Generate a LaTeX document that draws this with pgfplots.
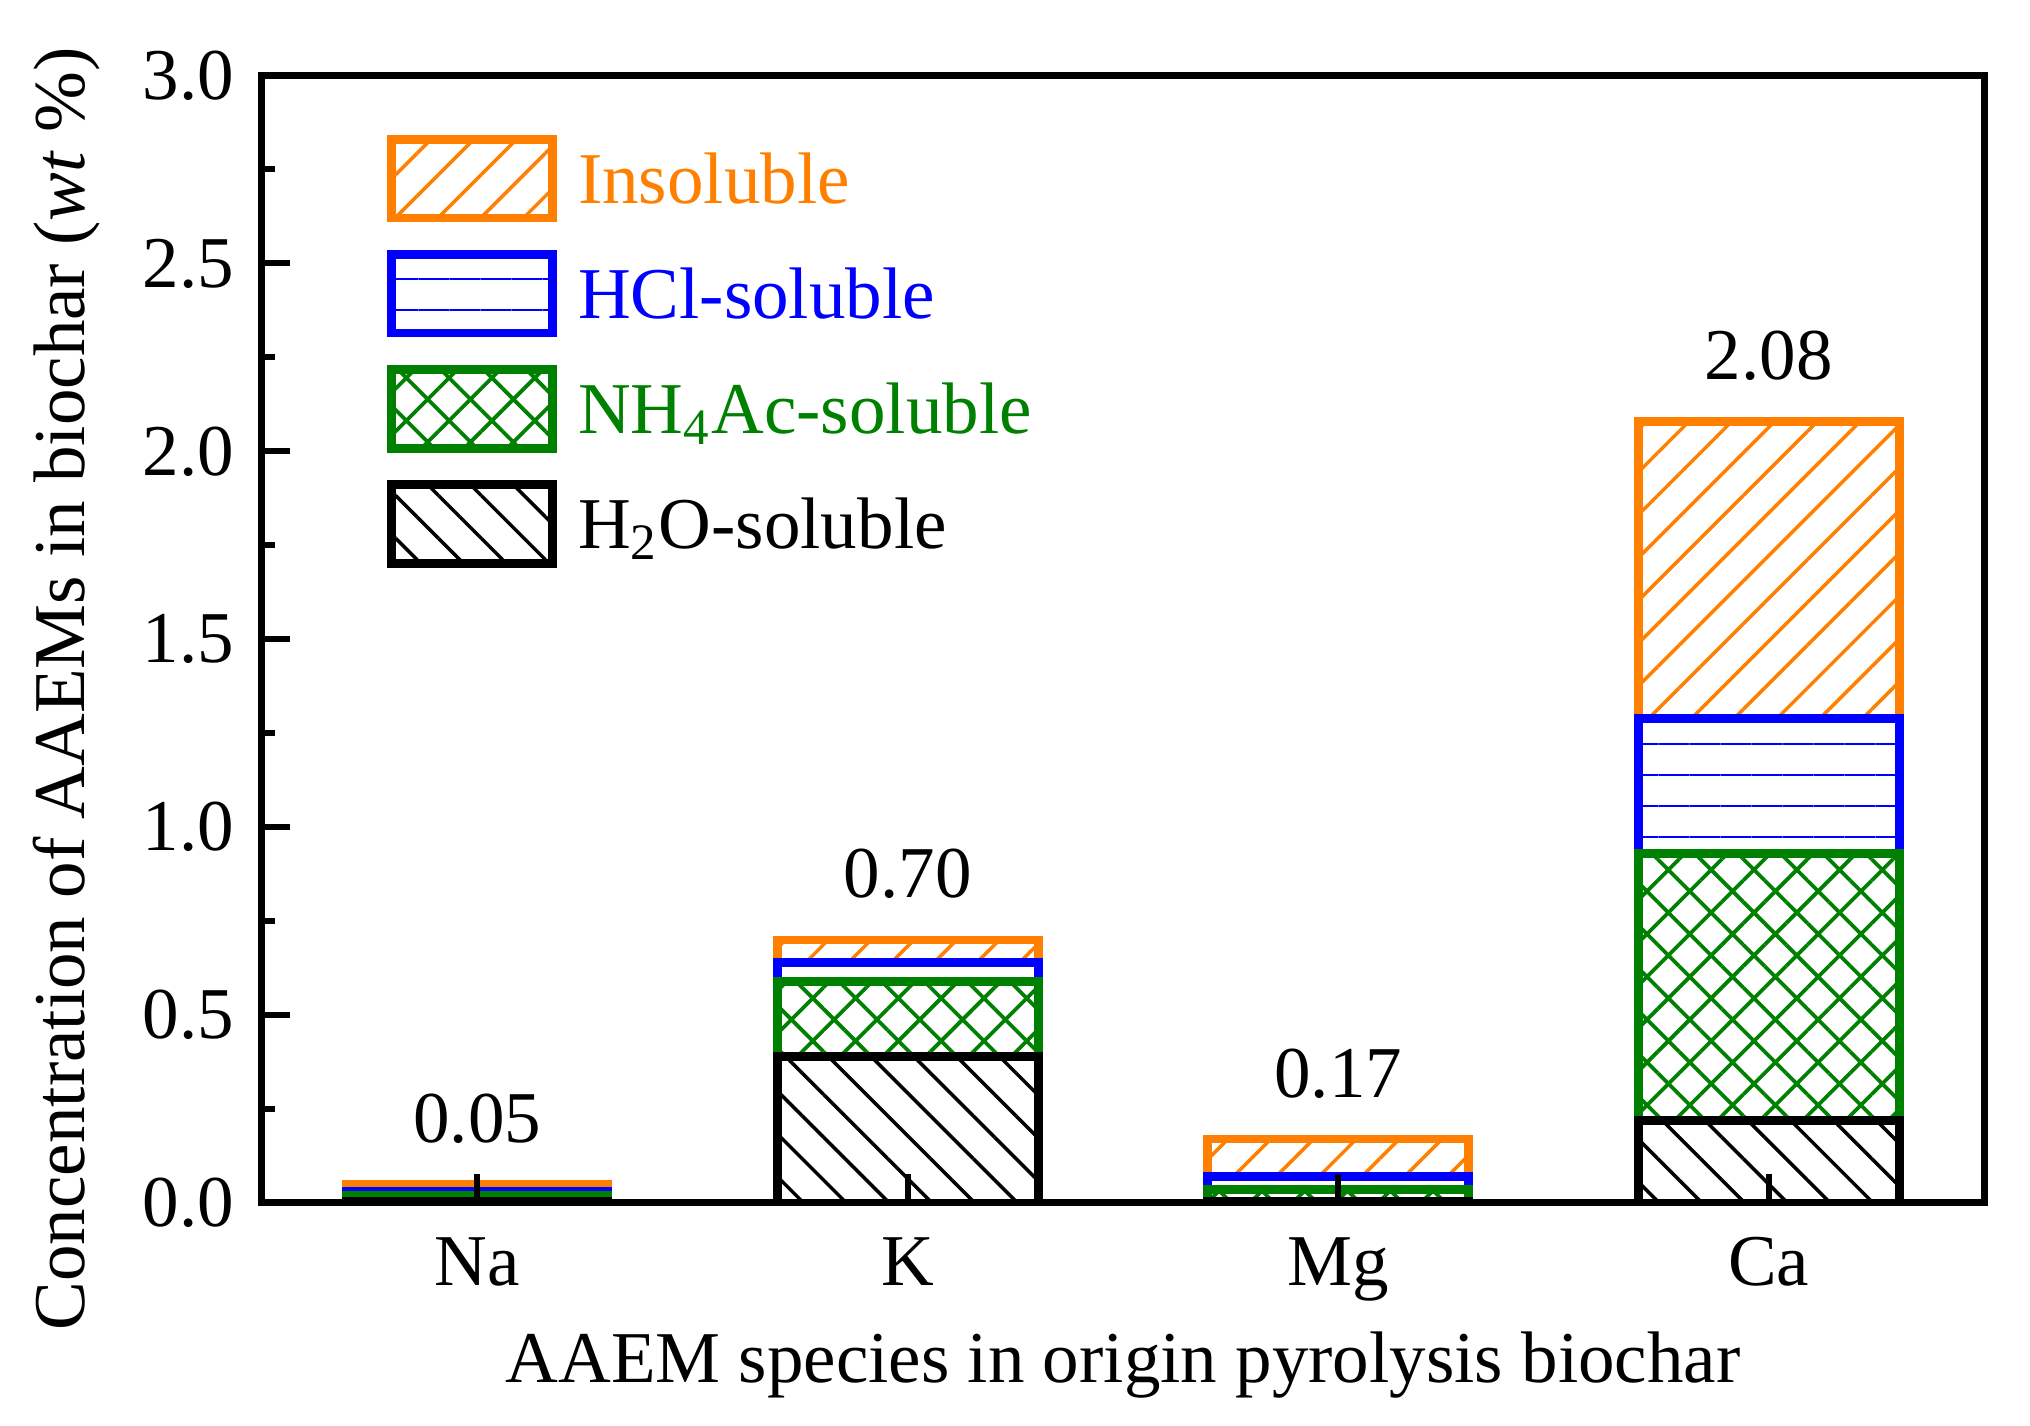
\documentclass[border=0pt]{standalone}
\usepackage{fontspec}
\setmainfont{Liberation Serif}
\usepackage{pgfplots}
\pgfplotsset{compat=1.18}
\usetikzlibrary{patterns.meta}
\definecolor{cIns}{RGB}{255,128,0}
\definecolor{cHCl}{RGB}{0,0,255}
\definecolor{cNH}{RGB}{0,128,0}
\newcommand{\ff}{\fontsize{14.6}{17.5}\selectfont}
\pgfplotsset{geom/.style={at={(0,0)}, anchor=south west,
  scale only axis, width=344.4pt, height=225.5pt,
  xmin=0.5, xmax=4.5, ymin=0, ymax=3}}
\begin{document}
\ff
\begin{tikzpicture}
\useasboundingbox (-52.4pt,-44.6pt) rectangle (353.6pt,240.6pt);
\begin{axis}[
  geom,
  ybar stacked, bar width=0.606,
  xtick={1,2,3,4}, xticklabels={Na,K,Mg,Ca},
  ytick={0,0.5,1,1.5,2,2.5,3}, minor y tick num=1,
  tick pos=left, tick align=inside,
  major tick length=5.7pt, minor tick length=2.7pt,
  every tick/.style={black, line width=1.2pt},
  axis line style={line width=1.4pt},
  axis on top,
  /pgf/number format/assume math mode=true,
  tick label style={font=\ff},
  yticklabel style={/pgf/number format/fixed, /pgf/number format/fixed zerofill, /pgf/number format/precision=1, xshift=-0.5pt},
  xticklabel style={yshift=-1.8pt},
  label style={font=\ff},
  xlabel={AAEM species in origin pyrolysis biochar},
  xlabel style={at={(axis description cs:0.5,0)}, anchor=north, yshift=-25.5pt, inner sep=0pt},
  ylabel={Concentration of AAEMs in biochar (\textit{wt} \%)},
  ylabel style={at={(axis description cs:-0.1133,0.456)}, anchor=center, inner sep=0pt},
  reverse legend,
  legend cell align=left,
  legend image code/.code={\draw[#1] (0.875pt,-7.125pt) rectangle (33.125pt,8.625pt);},
  legend style={at={(axis description cs:0.0726,0.9472)}, anchor=north west,
    draw=none, fill=none, inner sep=0pt, outer sep=0pt, row sep=5.5pt,
    font=\ff, nodes={inner sep=0.5pt, text height=10.5pt, text depth=2pt},
    /tikz/every odd column/.append style={column sep=3.7pt}},
]
\addplot[draw=black, line width=1.75pt,
  pattern={Lines[angle=-45,distance=6.05pt,line width=0.7pt]}, pattern color=black]
  coordinates {(1,0.005) (2,0.39) (3,0.005) (4,0.22)};
\addplot[draw=cNH, line width=1.75pt,
  pattern={Hatch[angle=45,distance=6.05pt,line width=0.75pt]}, pattern color=cNH]
  coordinates {(1,0.015) (2,0.20) (3,0.03) (4,0.71)};
\addplot[draw=cHCl, line width=1.75pt,
  pattern={Lines[angle=0,distance=6.2pt,line width=0.45pt]}, pattern color=cHCl]
  coordinates {(1,0.01) (2,0.05) (3,0.035) (4,0.36)};
\addplot[draw=cIns, line width=1.75pt,
  pattern={Lines[angle=45,distance=6.05pt,line width=0.7pt]}, pattern color=cIns]
  coordinates {(1,0.02) (2,0.06) (3,0.10) (4,0.79)};
\legend{H\textsubscript{2}O-soluble,\textcolor{cNH}{NH\textsubscript{4}Ac-soluble},\textcolor{cHCl}{HCl-soluble},\textcolor{cIns}{Insoluble}}
\end{axis}
\begin{axis}[geom, hide axis, clip=false]
\addplot[draw=none, mark=none, nodes near coords, point meta=explicit symbolic,
  every node near coord/.style={anchor=south, inner sep=0pt, yshift=8pt, black, font=\ff}]
  coordinates {(1,0.05) [0.05] (2,0.70) [0.70] (3,0.17) [0.17] (4,2.08) [2.08]};
\end{axis}
\end{tikzpicture}
\end{document}
